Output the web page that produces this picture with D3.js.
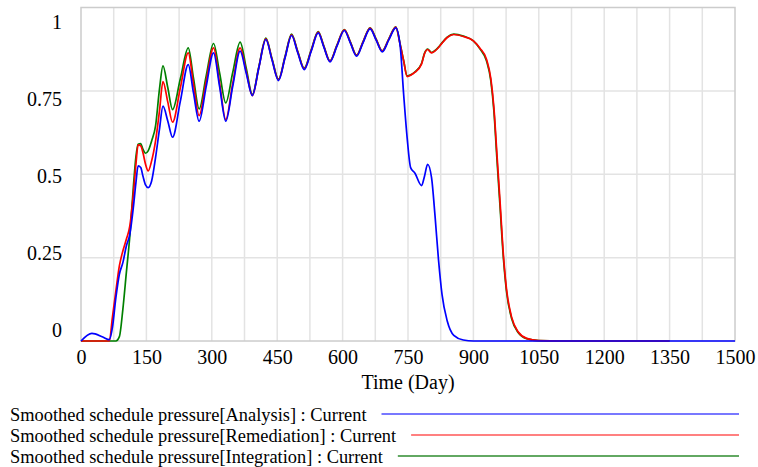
<!DOCTYPE html>
<html>
<head>
<meta charset="utf-8">
<script src="https://cdn.jsdelivr.net/npm/d3@7"></script>
<style>
  body { margin: 0; background: #ffffff; }
  svg { display: block; }
  .tick text, .lbl { font-family: 'Liberation Serif', 'Times New Roman', serif; fill: #000; }
</style>
</head>
<body>
<svg id="chart" width="758" height="467"></svg>
<script>
// Simulation output: smoothed schedule pressure per project phase (days 0..1500)
const days = [
  0, 25, 50, 65, 72, 80, 88, 96, 104, 112, 120, 126, 131, 137, 142, 148, 154, 162, 171, 180, 188, 199, 210,
  228, 246, 258, 271, 287, 304, 318, 332, 348, 365, 379, 393, 408, 424, 438, 453, 468, 483, 497, 512, 528,
  544, 557, 571, 587, 604, 618, 632, 647, 663, 677, 691, 706, 722,
  732, 740, 748, 756, 766, 781, 788, 795, 804, 812, 820, 828, 840, 855, 877, 900, 915, 930, 940, 947, 954,
  961, 969, 976, 988, 1003, 1022, 1050, 1100, 1200, 1350, 1500
];

const analysis = [
  0, 0.023, 0.012, 0.004, 0.04, 0.13, 0.2, 0.235, 0.285, 0.32, 0.4, 0.475, 0.525, 0.52, 0.495, 0.468, 0.46, 0.48, 0.55, 0.635, 0.704, 0.66, 0.611,
  0.72, 0.829, 0.744, 0.659, 0.762, 0.864, 0.762, 0.659, 0.764, 0.869, 0.803, 0.736, 0.82, 0.904, 0.843, 0.781, 0.849, 0.916, 0.865, 0.814, 0.869,
  0.924, 0.881, 0.837, 0.884, 0.931, 0.893, 0.854, 0.895, 0.936, 0.902, 0.867, 0.903, 0.939,
  0.885, 0.74, 0.61, 0.52, 0.503, 0.466, 0.495, 0.53, 0.49, 0.375, 0.243, 0.14, 0.06, 0.017, 0.003, 0, 0, 0, 0, 0, 0,
  0, 0, 0, 0, 0, 0, 0, 0, 0, 0, 0
];

const remediation = [
  0, 0, 0, 0, 0.07, 0.15, 0.225, 0.27, 0.305, 0.345, 0.44, 0.53, 0.588, 0.585, 0.565, 0.53, 0.51, 0.54, 0.6, 0.69, 0.778, 0.717, 0.656,
  0.76, 0.864, 0.77, 0.676, 0.778, 0.879, 0.772, 0.664, 0.772, 0.879, 0.808, 0.736, 0.821, 0.906, 0.845, 0.783, 0.851, 0.918, 0.867, 0.816, 0.871,
  0.926, 0.883, 0.839, 0.886, 0.933, 0.895, 0.856, 0.897, 0.938, 0.904, 0.869, 0.905, 0.941,
  0.889, 0.84, 0.793, 0.797, 0.806, 0.83, 0.862, 0.874, 0.864, 0.87, 0.88, 0.893, 0.91, 0.919, 0.913, 0.9, 0.878, 0.845, 0.787, 0.7, 0.56,
  0.42, 0.255, 0.155, 0.07, 0.027, 0.008, 0.001, 0, 0, 0, null
];

const integration = [
  0, 0, 0, 0, 0, 0, 0.013, 0.095, 0.205, 0.315, 0.46, 0.553, 0.59, 0.592, 0.575, 0.563, 0.57, 0.6, 0.645, 0.755, 0.825, 0.76, 0.694,
  0.787, 0.879, 0.788, 0.696, 0.794, 0.892, 0.803, 0.714, 0.805, 0.896, 0.818, 0.739, 0.823, 0.908, 0.847, 0.785, 0.853, 0.92, 0.869, 0.818, 0.873,
  0.928, 0.884, 0.84, 0.887, 0.934, 0.896, 0.857, 0.898, 0.939, 0.905, 0.87, 0.906, 0.942,
  0.89, 0.841, 0.795, 0.798, 0.807, 0.832, 0.863, 0.875, 0.865, 0.871, 0.881, 0.894, 0.911, 0.92, 0.914, 0.9, 0.876, 0.84, 0.78, 0.69, 0.545,
  0.405, 0.245, 0.148, 0.066, 0.025, 0.007, 0.001, 0, 0, 0, null
];

const seriesNames = [
  "Smoothed schedule pressure[Analysis] : Current",
  "Smoothed schedule pressure[Remediation] : Current",
  "Smoothed schedule pressure[Integration] : Current"
];
const seriesColors = ["#0000ff", "#ff0000", "#008000"];
const legendColors = ["#7878ff", "#ff8080", "#62a862"];

const xTicks = [0, 150, 300, 450, 600, 750, 900, 1050, 1200, 1350, 1500];
const yTicks = [0, 0.25, 0.5, 0.75, 1];
const yTickLabels = ["0", "0.25", "0.5", "0.75", "1"];
const xTitle = "Time (Day)";

const FONT = "'Liberation Serif', 'Times New Roman', serif";

const svg = d3.select("#chart");
const plotL = 81, plotR = 735, plotT = 7.5, plotB = 341;

const x = d3.scaleLinear().domain([0, 1500]).range([plotL, plotR]);
const y = d3.scaleLinear().domain([0, 1]).range([plotB, plotT]);
// value labels sit on their own evenly spaced band beside the plot
const yLabelPos = d3.scaleLinear().domain([0, 1]).range([330.3, 21.9]);

// grid
const grid = svg.append("g");
grid.selectAll("line.v")
  .data(d3.range(75, 1500, 75))
  .join("line")
  .attr("x1", d => x(d)).attr("x2", d => x(d))
  .attr("y1", plotT).attr("y2", plotB)
  .attr("stroke", "#e3e3e3").attr("stroke-width", 1.5);
grid.selectAll("line.h")
  .data(yTicks.filter(v => v > 0 && v < 1))
  .join("line")
  .attr("x1", plotL).attr("x2", plotR)
  .attr("y1", d => y(d)).attr("y2", d => y(d))
  .attr("stroke", "#e3e3e3").attr("stroke-width", 1.5);

// frame
svg.append("rect")
  .attr("x", plotL).attr("y", plotT)
  .attr("width", plotR - plotL).attr("height", plotB - plotT)
  .attr("fill", "none").attr("stroke", "#cccccc").attr("stroke-width", 1.5);

// axes (labels only)
const xAxis = svg.append("g")
  .attr("transform", `translate(0,${plotB})`)
  .call(d3.axisBottom(x).tickValues(xTicks).tickSize(0).tickPadding(8.3).tickFormat(d3.format("d")))
  .attr("font-family", FONT).attr("font-size", 20);
xAxis.select(".domain").remove();
xAxis.selectAll("text").style("font-family", FONT).style("font-size", "20px");

const yAxis = svg.append("g")
  .attr("transform", "translate(62,0)")
  .call(d3.axisLeft(yLabelPos).tickValues(yTicks).tickSize(0).tickPadding(0)
    .tickFormat((d, i) => yTickLabels[i]))
  .attr("font-family", FONT).attr("font-size", 20);
yAxis.select(".domain").remove();
yAxis.selectAll("text").style("font-family", FONT).style("font-size", "20px");

svg.append("text")
  .attr("class", "lbl")
  .attr("x", (plotL + plotR) / 2).attr("y", 389)
  .attr("text-anchor", "middle")
  .style("font-size", "20px")
  .text(xTitle);

// series lines
const seriesData = [analysis, remediation, integration].map(vals =>
  days.map((d, i) => ({ t: d, v: vals[i] })));

const line = d3.line()
  .defined(d => d.v != null)
  .x(d => x(d.t))
  .y(d => y(d.v))
  .curve(d3.curveMonotoneX);

const drawOrder = [2, 1, 0];
svg.append("g").selectAll("path")
  .data(drawOrder)
  .join("path")
  .attr("d", i => line(seriesData[i]))
  .attr("fill", "none")
  .attr("stroke", i => seriesColors[i])
  .attr("stroke-width", 1.7)
  .attr("stroke-linejoin", "round");

// legend
const legend = svg.append("g");
seriesNames.forEach((name, i) => {
  const t = legend.append("text")
    .attr("class", "lbl")
    .attr("x", 10).attr("y", 421 + 21 * i)
    .style("font-size", "18.4px")
    .text(name);
  const w = t.node().getComputedTextLength();
  legend.append("line")
    .attr("x1", 10 + w + 15).attr("x2", 739)
    .attr("y1", 414 + 21 * i).attr("y2", 414 + 21 * i)
    .attr("stroke", legendColors[i]).attr("stroke-width", 2.2);
});
</script>
</body>
</html>
